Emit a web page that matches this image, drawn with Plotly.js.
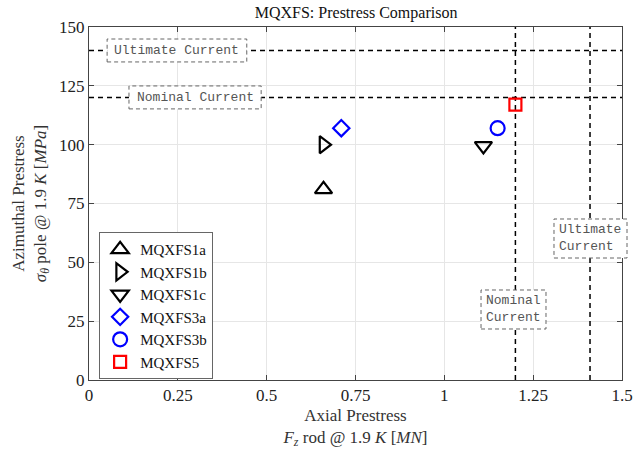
<!DOCTYPE html>
<html><head><meta charset="utf-8">
<script src="https://cdn.plot.ly/plotly-3.0.1.min.js"></script>
<style>html,body{margin:0;padding:0;background:#fff}#chart{width:633px;height:451px}</style>
</head><body><div id="chart"></div>
<script>
// Data
const names = ["MQXFS1a","MQXFS1b","MQXFS1c","MQXFS3a","MQXFS3b","MQXFS5"];
const axialPrestress = [0.66, 0.66, 1.11, 0.71, 1.15, 1.20];
const azimuthalPrestress = [81, 100, 99.5, 107, 107, 117];
const symbols = ["triangle-up-open","triangle-right-open","triangle-down-open","diamond-open","circle-open","square-open"];
const colors = ["#000000","#000000","#000000","#0000ff","#0000ff","#ff0000"];
const sizes = [15, 15, 15, 12.5, 14, 12];
// Reference current levels
const azimuthalLevels = [140, 120];       // Ultimate, Nominal
const azimuthalLevelLabels = ["Ultimate Current","Nominal Current"];
const axialLevels = [1.2, 1.41];          // Nominal, Ultimate
const axialLevelLabels = ["Nominal<br>Current","Ultimate<br>Current"];
const xRange = [0, 1.5], yRange = [0, 150];
const xTicks = [0,0.25,0.5,0.75,1,1.25,1.5], xTickText = ["0","0.25","0.5","0.75","1","1.25","1.5"];
const yTicks = [0,25,50,75,100,125,150];

const traces = [];
azimuthalLevels.forEach(v => traces.push({x: xRange, y: [v, v], mode: 'lines', showlegend: false, hoverinfo: 'skip',
  line: {color: '#000', width: 1.5, dash: '5px,4px'}}));
axialLevels.forEach(v => traces.push({x: [v, v], y: yRange, mode: 'lines', showlegend: false, hoverinfo: 'skip',
  line: {color: '#000', width: 1.5, dash: '5px,4px'}}));
names.forEach((n, i) => traces.push({
  x: [axialPrestress[i]], y: [azimuthalPrestress[i]], name: n, mode: 'markers', type: 'scatter',
  marker: {symbol: symbols[i], size: sizes[i], color: colors[i], line: {width: 2.2, color: colors[i]}}
}));

// label boxes (paper coordinates)
const boxes = [
  {x0: 0.034, x1: 0.296, y0: 0.901, y1: 0.966, text: azimuthalLevelLabels[0]},
  {x0: 0.075, x1: 0.323, y0: 0.768, y1: 0.833, text: azimuthalLevelLabels[1]},
  {x0: 0.7355, x1: 0.8574, y0: 0.1445, y1: 0.255, text: axialLevelLabels[0]},
  {x0: 0.8724, x1: 1.0094, y0: 0.3456, y1: 0.4561, text: axialLevelLabels[1]}
];
const shapes = boxes.map(b => ({type: 'rect', xref: 'paper', yref: 'paper', x0: b.x0, x1: b.x1, y0: b.y0, y1: b.y1,
  fillcolor: '#fff', layer: 'above', line: {color: '#666', width: 1, dash: '4px,3px'}}));
const annotations = boxes.map(b => ({xref: 'paper', yref: 'paper', x: (b.x0 + b.x1) / 2, y: (b.y0 + b.y1) / 2,
  text: b.text, showarrow: false, font: {family: "'Liberation Mono', 'Courier New', monospace", size: 13, color: '#555'},
  xanchor: 'center', yanchor: 'middle', align: 'left'}));

const serif = "'Liberation Serif', 'Times New Roman', serif";
const layout = {
  width: 633, height: 451,
  margin: {l: 89, r: 11, t: 27, b: 71},
  paper_bgcolor: '#fff', plot_bgcolor: '#fff',
  font: {family: serif, color: '#222'},
  title: {text: 'MQXFS: Prestress Comparison', x: 0.5625, xanchor: 'center', y: 0.972, yanchor: 'middle',
    font: {family: serif, size: 16, color: '#111'}},
  xaxis: {range: xRange, tickvals: xTicks, ticktext: xTickText, ticks: 'inside', ticklen: 5, tickcolor: '#444',
    showline: true, linecolor: '#444', linewidth: 1, mirror: 'ticks', showgrid: true, gridcolor: '#e6e6e6',
    zeroline: false, tickfont: {family: serif, size: 17, color: '#222'},
    title: {text: 'Axial Prestress<br><i>F<sub>z</sub></i> rod @ 1.9 <i>K</i> [<i>MN</i>]', standoff: 4,
      font: {family: serif, size: 17, color: '#333'}}},
  yaxis: {range: yRange, tickvals: yTicks, ticks: 'inside', ticklen: 5, tickcolor: '#444',
    showline: true, linecolor: '#444', linewidth: 1, mirror: 'ticks', showgrid: true, gridcolor: '#e6e6e6',
    zeroline: false, tickfont: {family: serif, size: 17, color: '#222'},
    title: {text: 'Azimuthal Prestress<br><i>σ<sub>θ</sub></i> pole @ 1.9 <i>K</i> [<i>MPa</i>]', standoff: 8,
      font: {family: serif, size: 17, color: '#333'}}},
  legend: {x: 0.019, y: 0.419, xanchor: 'left', yanchor: 'top', bgcolor: '#fff', bordercolor: '#666', borderwidth: 1,
    font: {family: serif, size: 15, color: '#111'}, tracegroupgap: 0, itemwidth: 30},
  shapes: shapes, annotations: annotations, showlegend: true
};
Plotly.newPlot('chart', traces, layout, {displayModeBar: false, staticPlot: true});
</script></body></html>
